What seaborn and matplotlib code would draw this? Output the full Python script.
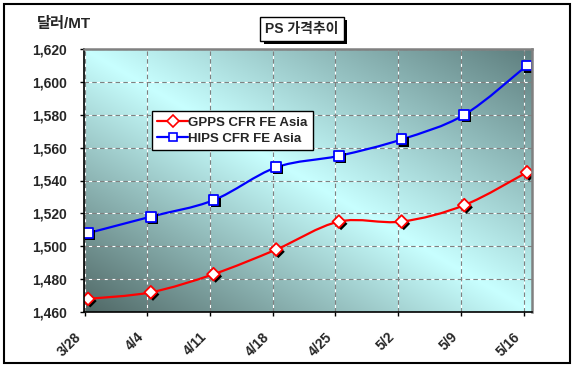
import numpy as np
import matplotlib
matplotlib.use('Agg')
import matplotlib.pyplot as plt
import seaborn as sns
import pandas as pd
from matplotlib.path import Path
from matplotlib.patches import PathPatch, Rectangle
from matplotlib.lines import Line2D
import matplotlib.patheffects as pe
import matplotlib.transforms as mtrans

# ---- data ----
dates = ['3/28', '4/4', '4/11', '4/18', '4/25', '5/2', '5/9', '5/16']
gpps = [1468, 1472, 1483, 1498, 1515, 1515, 1525, 1545]
hips = [1508, 1518, 1528, 1548, 1555, 1565, 1580, 1610]
series_names = ['GPPS CFR FE Asia', 'HIPS CFR FE Asia']
y_ticks = [1460, 1480, 1500, 1520, 1540, 1560, 1580, 1600, 1620]
title_text = 'PS 가격추이'
unit_text = '달러/MT'

sns.set_style('white')
plt.rcParams['font.family'] = ['Liberation Sans', 'Noto Sans CJK KR', 'DejaVu Sans']

W, H = 577, 368
fig = plt.figure(figsize=(W / 100, H / 100), dpi=100)
fig.patch.set_facecolor('white')
ax = fig.add_axes([84 / W, 1 - 312 / H, 448 / W, 263 / H])

# gradient background
n = 200
xn, yn = np.meshgrid(np.linspace(0, 1, n), np.linspace(0, 1, n))
u = xn + yn - 1.0
light = np.array([200, 255, 255]) / 255
dark_bl = np.array([80, 104, 102]) / 255
dark_tr = np.array([94, 126, 126]) / 255
t = np.abs(u)[..., None]
img = np.where(u[..., None] < 0, light + (dark_bl - light) * t, light + (dark_tr - light) * t)
ax.imshow(img, origin='lower', extent=(0, 1, 0, 1), transform=ax.transAxes,
          aspect='auto', zorder=0, interpolation='bilinear')

x = np.arange(len(dates))
df = pd.DataFrame({'x': x, 'gpps': gpps, 'hips': hips})


def smooth_path(xs, ys):
    pts = np.column_stack([xs, ys]).astype(float)
    verts = [pts[0]]
    codes = [Path.MOVETO]
    for i in range(len(pts) - 1):
        p0 = pts[i - 1] if i > 0 else pts[i]
        p1 = pts[i]
        p2 = pts[i + 1]
        p3 = pts[i + 2] if i + 2 < len(pts) else pts[i + 1]
        c1 = p1 + (p2 - p0) / 6
        c2 = p2 - (p3 - p1) / 6
        verts += [c1, c2, p2]
        codes += [Path.CURVE4] * 3
    return Path(verts, codes)


for col, color, marker, ms in [('gpps', '#ff0000', 'D', 42), ('hips', '#0000ff', 's', 50)]:
    ax.add_patch(PathPatch(smooth_path(df['x'], df[col]), fill=False,
                           edgecolor=color, lw=1.6, zorder=3))
    sns.scatterplot(data=df, x='x', y=col, ax=ax, marker=marker, s=ms,
                    color='white', edgecolor=color, linewidth=1.3, zorder=4, legend=False)
    ax.collections[-1].set_path_effects([
        pe.SimplePatchShadow(offset=(1.6, -1.6), shadow_rgbFace='black', alpha=1.0),
        pe.Normal()])

ax.set_xlim(-0.065, 7.08)
ax.set_ylim(1460, 1620)
ax.set_xlabel('')
ax.set_ylabel('')

ax.set_yticks(y_ticks)
ax.set_yticklabels([f'{v:,}' for v in y_ticks], fontsize=10, fontweight='bold')
ax.set_xticks(x - 0.055)
ax.set_xticklabels(dates, fontsize=10, fontweight='bold', rotation=45,
                   ha='right', va='center', rotation_mode='anchor')
ax.tick_params(axis='y', left=True, length=3, width=1, color='black', pad=9.5, direction='out')
ax.tick_params(axis='x', bottom=True, length=3, width=1, color='black', pad=13.5, direction='out')
for lbl in ax.get_xticklabels():
    lbl.set_transform(lbl.get_transform() + mtrans.ScaledTranslation(-4 / 72, 0, fig.dpi_scale_trans))

ax.grid(True, color='#808080', linestyle=(0, (4, 3)), linewidth=0.8, gapcolor='white')
ax.set_axisbelow(False)
for gl in ax.get_xgridlines() + ax.get_ygridlines():
    gl.set_zorder(1)

for s in ['left', 'bottom']:
    ax.spines[s].set_color('black')
    ax.spines[s].set_linewidth(1.2)
for s in ['top', 'right']:
    ax.spines[s].set_color('#808080')
    ax.spines[s].set_linewidth(1.8)
for s in ax.spines.values():
    s.set_zorder(5)

handles = [
    Line2D([], [], color='#ff0000', lw=1.6, marker='D', ms=6, mfc='white', mec='#ff0000', mew=1.2),
    Line2D([], [], color='#0000ff', lw=1.6, marker='s', ms=6, mfc='white', mec='#0000ff', mew=1.2),
]
leg = ax.legend(handles, series_names, loc='upper left', bbox_to_anchor=(0.152, 0.764),
                borderaxespad=0, frameon=True, fancybox=False, shadow=False,
                prop={'weight': 'bold', 'size': 9.5}, handlelength=2.3, handletextpad=0.05,
                labelspacing=0.3, borderpad=0.4)
leg.get_frame().set_edgecolor('black')
leg.get_frame().set_linewidth(1.0)
leg.get_frame().set_facecolor('white')
leg.get_frame().set_alpha(1)
leg.set_zorder(6)

# title box
tt = fig.text(302 / W, 1 - 29 / H, title_text, ha='center', va='center', fontsize=10,
              fontweight='bold',
              bbox=dict(boxstyle='square,pad=0.35', fc='white', ec='black', lw=1))
tt.get_bbox_patch().set_path_effects([
    pe.SimplePatchShadow(offset=(2.2, -2.2), shadow_rgbFace='black', alpha=1.0), pe.Normal()])

# unit label
fig.text(37 / W, 1 - 24 / H, unit_text, ha='left', va='center', fontsize=11, fontweight='bold')

# outer border
fig.add_artist(Rectangle((4 / W, 1 - 363 / H), 566 / W, 359 / H, transform=fig.transFigure,
                         fill=False, ec='black', lw=1.5))

fig.savefig('out.png', dpi=100)
